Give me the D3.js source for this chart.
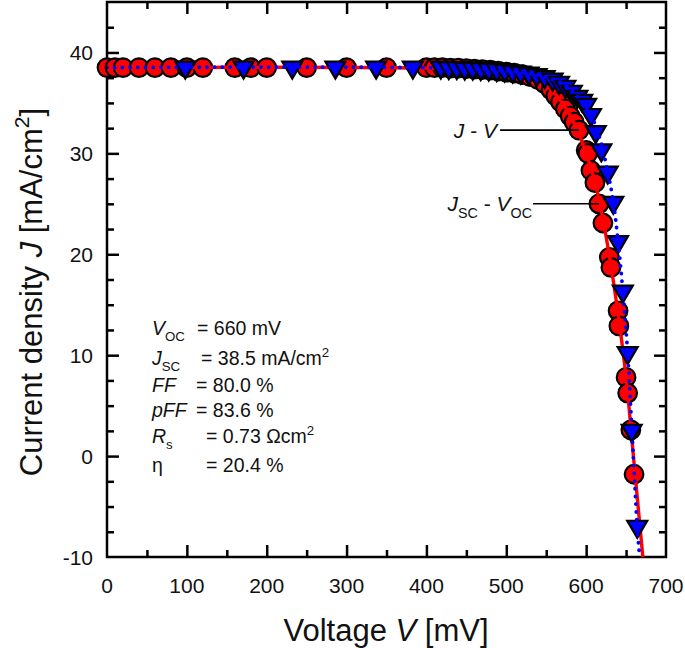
<!DOCTYPE html>
<html><head><meta charset="utf-8">
<script src="https://cdn.jsdelivr.net/npm/d3@7"></script>
<style>body{margin:0;background:#fff}svg{display:block}text{font-family:"Liberation Sans",Arial,sans-serif;fill:#111}</style>
</head><body>
<svg id="c" width="685" height="648"></svg>
<script>
// ---- data ----
const xTicks = [0,100,200,300,400,500,600,700];
const yTicks = [-10,0,10,20,30,40];
const circV = [0,10,20,40,60,80,100,120,160,180,200,250,300,350,400,410,420,430,440,450,460,470,480,490,500,510,520,530,540,548,556,562,568,574,580,585,591,600,602,606,611,616,621,629,631,640,641,650,652,656,660];
const circJ = [38.5,38.5,38.5,38.5,38.5,38.5,38.5,38.5,38.5,38.5,38.5,38.5,38.5,38.5,38.5,38.5,38.5,38.45,38.45,38.4,38.35,38.3,38.25,38.15,38.05,37.95,37.8,37.6,37.3,36.9,36.3,35.7,35.1,34.4,33.7,33.1,32.3,30.3,30.0,28.3,27.1,25.0,23.1,19.7,18.7,14.4,12.9,7.8,6.25,2.6,-1.8];
const triV = [98,171,232,286,337,383,418,428,438,448,458,468,478,488,498,508,518,528,538,548,558,566,574,582,589,595,600,606,612,619,627,634,640,646,652,657,664];
const triJ = [38.5,38.5,38.5,38.5,38.5,38.5,38.5,38.45,38.45,38.4,38.4,38.35,38.3,38.25,38.2,38.1,38.0,37.9,37.75,37.55,37.3,37.0,36.6,36.1,35.6,35.2,34.8,33.8,32.1,30.3,28.1,25.1,21.2,16.3,10.2,2.5,-7.0];
const redFitV = [0,400,480,520,545,560,575,590,600,610,620,630,640,650,660,671];
const redFitJ = [38.5,38.45,38.2,37.7,37.0,36.0,34.4,32.1,30.0,27.5,23.9,19.4,14.1,7.8,-0.7,-10];
const blueFitV = [0,450,520,560,580,595,607,617,627,634,640,646,652,657,664,667];
const blueFitJ = [38.5,38.4,38.0,37.3,36.4,35.0,33.6,31.5,28.2,25.2,21.3,16.3,10.2,3.0,-7.0,-10];
// annotation targets (V, J)
const annJV = [591, 32.3];
const annSC = [616, 25.0];

// ---- layout ----
const L=107, R=666, T=2, B=557;
const svg = d3.select("#c");
const x = d3.scaleLinear().domain([0,700]).range([L,R]);
const y = d3.scaleLinear().domain([-10,45]).range([B,T]);

function rich(g, segs, size){
  const t = g.append("text").attr("font-size", size);
  let shift = 0;
  segs.forEach(s=>{
    const sp = t.append("tspan").text(s.t);
    let target = 0;
    if (s.sub){ sp.attr("font-size", size*0.68); target = size*0.3; }
    else if (s.sup){ sp.attr("font-size", size*0.68); target = -size*0.42; }
    if (target !== shift){ sp.attr("dy", target - shift); shift = target; }
    if (s.i) sp.attr("font-style","italic");
  });
  return t;
}

svg.append("defs").append("clipPath").attr("id","clip").append("rect")
  .attr("x",L).attr("y",T).attr("width",R-L).attr("height",B-T);

const plot = svg.append("g");
const lines = svg.append("g").attr("clip-path","url(#clip)");
const lineX = d3.line().x(d=>x(d[0])).y(d=>y(d[1])).curve(d3.curveCatmullRom.alpha(0.5));

// axes & frame (drawn first so markers sit on top)
function ax(axisFn, scale, vals, size, tx, ty){
  const a = axisFn(scale).tickValues(vals).tickSize(size);
  const g = plot.append("g").attr("transform",`translate(${tx},${ty})`).call(a);
  g.select(".domain").remove();
  g.selectAll("line").attr("stroke","#000").attr("stroke-width",2.5);
  g.selectAll("text").remove();
  return g;
}
const xMinor = d3.range(50,700,100);
const yMinor = d3.range(-7.5,45,2.5).filter(v=>Math.abs(v%10)>0.01);
ax(d3.axisBottom, x, xTicks.slice(1,-1), -12, 0, B);
ax(d3.axisBottom, x, xMinor, -7, 0, B);
ax(d3.axisTop, x, xTicks.slice(1,-1), -12, 0, T);
ax(d3.axisTop, x, xMinor, -7, 0, T);
ax(d3.axisLeft, y, yTicks.slice(1), -12, L, 0);
ax(d3.axisLeft, y, yMinor, -7, L, 0);
ax(d3.axisRight, y, yTicks.slice(1), -12, R, 0);
ax(d3.axisRight, y, yMinor, -7, R, 0);
plot.append("rect").attr("x",L).attr("y",T).attr("width",R-L).attr("height",B-T)
  .attr("fill","none").attr("stroke","#000").attr("stroke-width",2.5);

// circles
svg.append("g").selectAll("circle").data(circV.map((v,i)=>[v,circJ[i]])).join("circle")
  .attr("cx",d=>x(d[0])).attr("cy",d=>y(d[1])).attr("r",9.3)
  .attr("fill","#ff0000").attr("stroke","#000").attr("stroke-width",2.2);

// red fit line
svg.append("g").attr("clip-path","url(#clip)").append("path").datum(redFitV.map((v,i)=>[v,redFitJ[i]]))
  .attr("d",lineX).attr("fill","none").attr("stroke","#ff0000").attr("stroke-width",3.4);

// triangles
const tri = "M-10,-6L10,-6L0,11Z";
svg.append("g").selectAll("path").data(triV.map((v,i)=>[v,triJ[i]])).join("path")
  .attr("d",tri).attr("transform",d=>`translate(${x(d[0])},${y(d[1])})`)
  .attr("fill","#0000ff").attr("stroke","#000").attr("stroke-width",2.2).attr("stroke-linejoin","miter");

// blue dotted fit
svg.append("g").attr("clip-path","url(#clip)").append("path").datum(blueFitV.map((v,i)=>[v,blueFitJ[i]]))
  .attr("d",lineX).attr("fill","none").attr("stroke","#0000ff").attr("stroke-width",3.8)
  .attr("stroke-linecap","round").attr("stroke-dasharray","0.1,7.6");

// tick labels
svg.append("g").selectAll("text").data(xTicks).join("text")
  .attr("x",d=>x(d)).attr("y",B+36).attr("text-anchor","middle").attr("font-size",21).text(d=>d);
svg.append("g").selectAll("text").data(yTicks).join("text")
  .attr("x",L-14).attr("y",d=>y(d)+7.5).attr("text-anchor","end").attr("font-size",21).text(d=>d);

// axis titles
rich(svg.append("g").attr("transform","translate(386,641)"),
  [{t:"Voltage "},{t:"V",i:true},{t:" [mV]"}],31).attr("text-anchor","middle");
rich(svg.append("g").attr("transform","translate(42,292) rotate(-90)"),
  [{t:"Current density "},{t:"J",i:true},{t:" [mA/cm"},{t:"2",sup:true},{t:"]"}],31).attr("text-anchor","middle");

// annotations
rich(svg.append("g").attr("transform",`translate(497,${y(annJV[1])+7.5})`),
  [{t:"J",i:true},{t:" - "},{t:"V",i:true}],21).attr("text-anchor","end");
svg.append("line").attr("x1",500).attr("x2",x(annJV[0])).attr("y1",y(annJV[1])).attr("y2",y(annJV[1]))
  .attr("stroke","#000").attr("stroke-width",1.6);
rich(svg.append("g").attr("transform",`translate(532,${y(annSC[1])+7.5})`),
  [{t:"J",i:true},{t:"SC",sub:true},{t:" - "},{t:"V",i:true},{t:"OC",sub:true}],21).attr("text-anchor","end");
svg.append("line").attr("x1",533).attr("x2",x(annSC[0])).attr("y1",y(annSC[1])).attr("y2",y(annSC[1]))
  .attr("stroke","#000").attr("stroke-width",1.6);

// parameter block
const params = [
  {lab:[{t:"V",i:true},{t:"OC",sub:true}], val:"= 660 mV", vx:197, y:335},
  {lab:[{t:"J",i:true},{t:"SC",sub:true}], val:[{t:"= 38.5 mA/cm"},{t:"2",sup:true}], vx:201, y:365},
  {lab:[{t:"FF",i:true}], val:"= 80.0 %", vx:196, y:392},
  {lab:[{t:"pFF",i:true}], val:"= 83.6 %", vx:196, y:417},
  {lab:[{t:"R",i:true},{t:"s",sub:true}], val:[{t:"= 0.73 Ωcm"},{t:"2",sup:true}], vx:206, y:443},
  {lab:[{t:"η"}], val:"= 20.4 %", vx:206, y:472}
];
params.forEach(p=>{
  rich(svg.append("g").attr("transform",`translate(152,${p.y})`), p.lab, 19.5);
  rich(svg.append("g").attr("transform",`translate(${p.vx},${p.y})`), typeof p.val==="string"?[{t:p.val}]:p.val, 19.5);
});
</script>
</body></html>
